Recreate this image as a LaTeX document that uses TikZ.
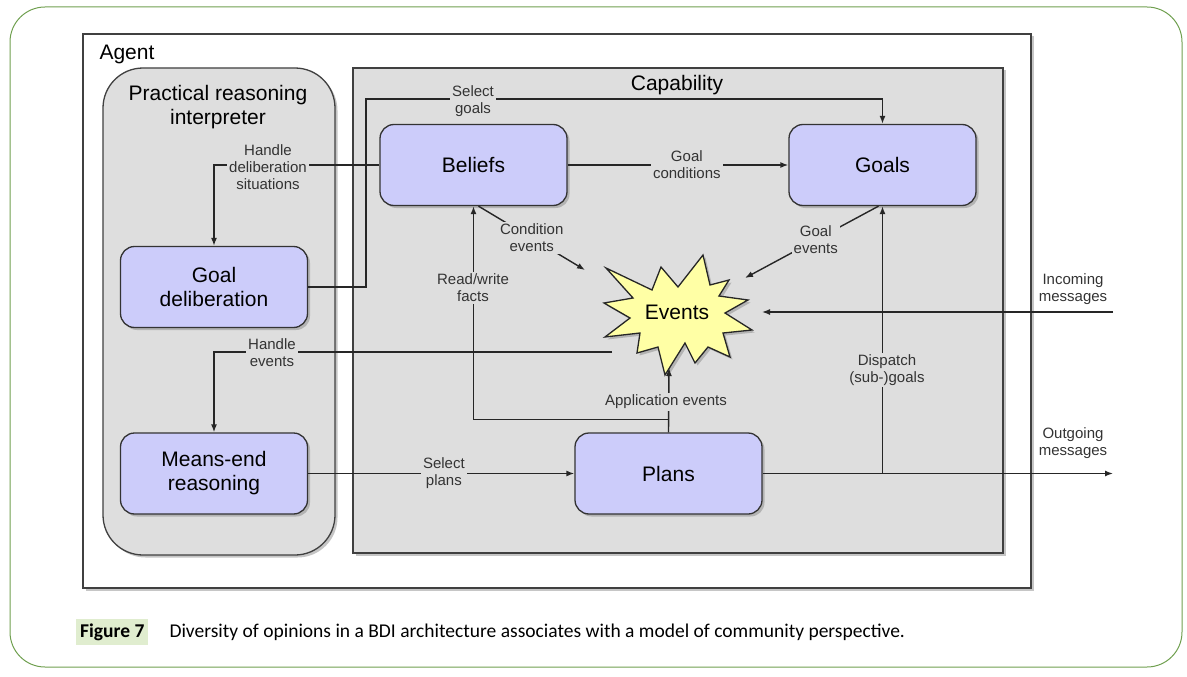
\documentclass[tikz,border=0pt]{standalone}
\usepackage{fontspec}
\setmainfont{Liberation Sans}
\newfontfamily\capfont{Carlito}
\usetikzlibrary{arrows.meta,calc,shadows}

\definecolor{boxblue}{RGB}{204,204,250}
\definecolor{capgray}{RGB}{222,222,222}
\definecolor{starfill}{RGB}{255,255,165}
\definecolor{framegreen}{RGB}{112,160,80}
\definecolor{figgreen}{RGB}{224,237,207}

\tikzset{
  shade/.style={drop shadow={shadow xshift=2.5pt,shadow yshift=-2.5pt,opacity=0.45}},
  box/.style={draw=black!80, line width=1.3pt, fill=boxblue, rounded corners=14pt,
    minimum width=187pt, minimum height=81pt, align=center,
    font=\fontsize{21}{24}\selectfont, shade},
  conn/.style={draw=black!85, line width=1.4pt, -{Latex[length=8pt,width=6pt]}},
  lbl/.style={fill=capgray, inner sep=2pt, align=center,
    font=\fontsize{15}{17}\selectfont, text=black!80},
  title/.style={align=center, font=\fontsize{21}{24}\selectfont},
}

\begin{document}
\begin{tikzpicture}[x=1pt,y=-1pt]

    \useasboundingbox (0,0) rectangle (1187,677);
    \draw[framegreen, line width=1pt, rounded corners=35pt] (10,7) rectangle (1182,667);

    \draw[draw=black!75, line width=1.5pt, fill=white, shade] (83,34) rectangle (1031,588);
    \node[title, anchor=base west] (agentlbl) at (96,60) {Agent};

    \draw[draw=black!75, line width=1.3pt, fill=capgray, rounded corners=40pt, shade] (103,68) rectangle (335,555);
    \node[title] (praclbl) at (218,107) {Practical reasoning\\interpreter};

    \draw[draw=black!75, line width=1.3pt, fill=capgray, shade] (353,68) rectangle (1003,553);
    \node[title] (caplbl) at (677,85) {Capability};

    \node[box] (beliefs) at (473.5,165) {Beliefs};
    \node[box] (goals) at (882.5,165) {Goals};
    \node[box] (gdelib) at (214,287) {Goal\\deliberation};
    \node[box] (meansend) at (214,473.5) {Means-end\\reasoning};
    \node[box] (plans) at (668.5,473.5) {Plans};

    \draw[draw=black!85, line width=1.3pt, fill=starfill, shade]
        (606,268) -- (652,290) -- (661,267) -- (678,287) -- (703,255) -- (710,285)
        -- (729,280) -- (719,296) -- (748,300) -- (725,313) -- (752,330) -- (723,333)
        -- (730,357) -- (708,347) -- (695,363) -- (685,343) -- (665,375) -- (658,347)
        -- (637,353) -- (640,333) -- (605,337) -- (630,318) -- (604,303) -- (633,298) -- cycle;
    \node[title] (events) at (677,312) {Events};

    \coordinate (cevt) at (585,270);
    \coordinate (gevt) at (745,278);
    \coordinate (hevt) at (612,352);
    \coordinate (aevt) at (669,368);
    \coordinate (ievt) at (762,312);
    \coordinate (inmsg) at (1113,312);
    \coordinate (outmsg) at (1113,473.5);

    \draw[conn] (gdelib.east) -- ++(58,0) |- ($(goals.north)+(0,-25)$) -- (goals.north);
    \node[lbl] (selgoals) at (473,101) {Select\\goals};

    \draw[conn] (beliefs.west) -| (gdelib.north);
    \node[lbl] (handledelib) at (268,167) {Handle\\deliberation\\situations};

    \draw[conn] (beliefs) -- (goals) node[lbl, pos=0.54] (goalcond) {Goal\\conditions};

    \draw[conn] ($(beliefs.south)+(5,0)$) -- (cevt) node[lbl, pos=0.5] (condevt) {Condition\\events};
    \draw[conn] ($(goals.south)+(-4,0)$) -- (gevt) node[lbl, pos=0.47] (goalevt) {Goal\\events};

    \draw[conn] (plans.north) -- ++(0,-13) -| (beliefs.south);
    \node[lbl] (rwfacts) at (473,288) {Read/write\\facts};

    \draw[conn] (plans.north) -- (aevt);
    \node[lbl] (appevt) at (666,402) {Application events};

    \draw[conn] (hevt) -| (meansend.north);
    \node[lbl] (handleevt) at (272,353) {Handle\\events};

    \draw[conn] (meansend) -- (plans) node[lbl, pos=0.51] (selplans) {Select\\plans};

    \draw[conn] (plans.east) -- (outmsg);
    \node[lbl, fill=none] (outlbl) at (1073,443) {Outgoing\\messages};

    \draw[conn] (goals.south |- plans.east) -- (goals.south);
    \node[lbl] (dispatch) at (887,370) {Dispatch\\(sub-)goals};

    \draw[conn] (inmsg) -- (ievt);
    \node[lbl, fill=none] (inlbl) at (1073,289) {Incoming\\messages};

    \node[fill=figgreen, anchor=west, inner sep=4pt, minimum height=26pt,
        font=\capfont\bfseries\fontsize{19.5}{22}\selectfont] (figlbl) at (76,632) {Figure 7};
    \node[anchor=west, font=\capfont\fontsize{19.5}{22}\selectfont] (caption) at (166,632)
        {Diversity of opinions in a BDI architecture associates with a model of community perspective.};

\end{tikzpicture}
\end{document}
